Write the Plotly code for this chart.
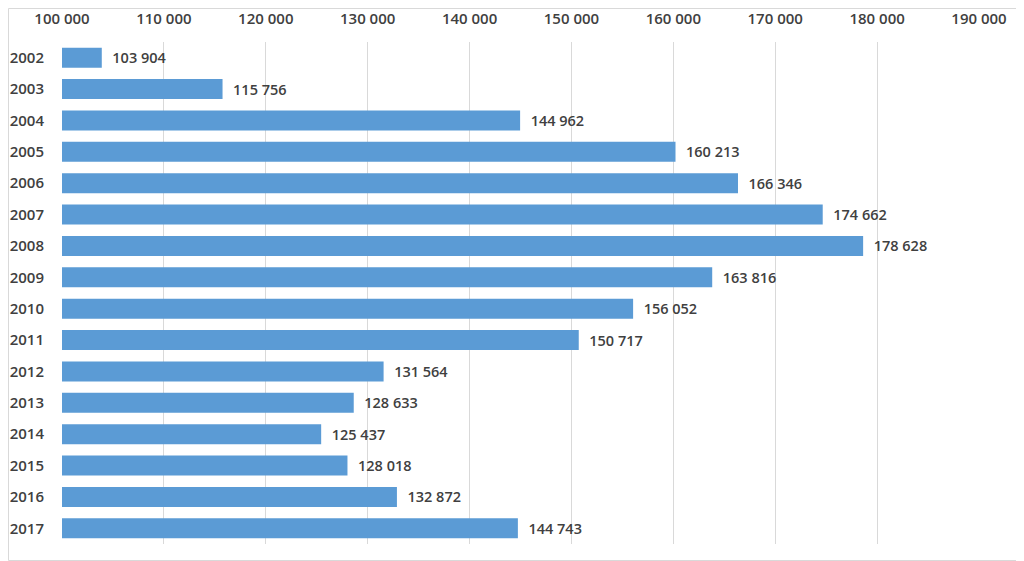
import plotly.graph_objects as go

years = ["2002", "2003", "2004", "2005", "2006", "2007", "2008", "2009",
         "2010", "2011", "2012", "2013", "2014", "2015", "2016", "2017"]
values = [103904, 115756, 144962, 160213, 166346, 174662, 178628, 163816,
          156052, 150717, 131564, 128633, 125437, 128018, 132872, 144743]
tick_vals = [100000, 110000, 120000, 130000, 140000, 150000, 160000, 170000, 180000, 190000]

# page body has an 8px margin, so the figure is offset by 8px
OFF = 8
W, H = 1024 - OFF, 561 - OFF
ml, mr, mt, mb = 62 - OFF, 45, 42 - OFF, 17

font_family = "Open Sans, Noto Sans, sans-serif"
txt_color = "#404040"

fig = go.Figure(go.Bar(
    x=values, y=years, orientation="h",
    marker=dict(color="#5B9BD5", line=dict(width=0)),
    width=0.64,
    texttemplate="\u00a0\u00a0%{x:,d}",
    textposition="outside",
    textfont=dict(size=14.5, color=txt_color, family=font_family, weight=600),
    cliponaxis=False,
))

pw = W - ml - mr
ph = H - mt - mb

fig.update_layout(
    width=W, height=H,
    margin=dict(l=ml, r=mr, t=mt, b=mb, autoexpand=False),
    paper_bgcolor="white", plot_bgcolor="white",
    separators=". ",
    showlegend=False,
    xaxis=dict(
        side="top", range=[100000, 190000],
        tickvals=tick_vals, tickformat=",d",
        showgrid=True, gridcolor="#D9D9D9", gridwidth=1,
        zeroline=False, showline=False, ticks="",
        tickfont=dict(size=15, color=txt_color, family=font_family, weight=600),
        ticklabelstandoff=14, automargin=False,
    ),
    yaxis=dict(
        autorange="reversed", type="category",
        showgrid=False, zeroline=False, showline=False, ticks="",
        tickfont=dict(size=15, color=txt_color, family=font_family, weight=600),
        ticklabelstandoff=17, automargin=False,
    ),
    font=dict(family=font_family, color=txt_color),
    shapes=[dict(
        type="rect", xref="paper", yref="paper",
        x0=(-ml + 0.5) / pw, x1=(pw + mr - 0.5) / pw,
        y0=(-mb + 0.5) / ph, y1=(ph + mt - 0.5) / ph,
        line=dict(color="#D9D9D9", width=1), layer="below",
    )],
)

fig.write_html("out.html")
